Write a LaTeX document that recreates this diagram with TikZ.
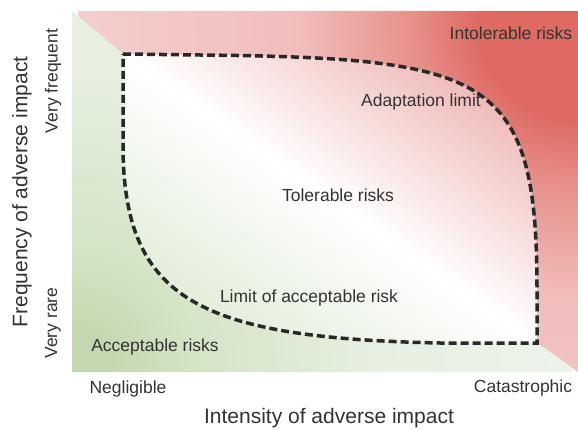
\documentclass[tikz,border=0pt]{standalone}
\usepackage{fontspec}
\setmainfont{Liberation Sans}

\newlength{\du}
\setlength{\du}{1pt}

\definecolor{riskred}{RGB}{222,106,98}
\definecolor{riskrose}{RGB}{232,146,141}
\definecolor{riskpink}{RGB}{241,190,188}
\definecolor{riskblush}{RGB}{244,206,205}
\definecolor{riskgreen}{RGB}{195,216,176}
\definecolor{risksage}{RGB}{212,228,198}
\definecolor{riskmint}{RGB}{230,239,224}
\definecolor{riskpale}{RGB}{237,243,234}
\definecolor{innerred}{RGB}{234,166,163}
\definecolor{innergreen}{RGB}{216,231,205}
\definecolor{labelgray}{RGB}{51,51,51}
\definecolor{dashgray}{RGB}{40,40,40}

\pgfdeclareradialshading{redcorner}{\pgfpointorigin}{color(0bp)=(riskred); color(5bp)=(riskred); color(8.5bp)=(riskrose); color(14bp)=(riskpink); color(25bp)=(riskblush); color(50bp)=(riskblush)}
\pgfdeclareradialshading{greencorner}{\pgfpointorigin}{color(0bp)=(riskgreen); color(2bp)=(riskgreen); color(6bp)=(risksage); color(15bp)=(riskmint); color(25bp)=(riskpale); color(50bp)=(riskpale)}

\tikzset{
  risklabel/.style={font=\fontsize{17.5}{21}\selectfont, text=labelgray, inner sep=0pt},
  axislabel/.style={font=\fontsize{21}{25}\selectfont, text=labelgray, inner sep=0pt},
  limitline/.style={draw=dashgray, line width=3.5\du, dash pattern=on 8\du off 4\du, miter limit=4}
}

\begin{document}
\begin{tikzpicture}
\pgftransformxscale{1.000000}
\pgftransformyscale{-1.000000}
\useasboundingbox (0\du,0\du) rectangle (578\du,430\du);
% red half, darkest in the top right corner
\begin{scope}
\clip (72\du,11\du)--(578\du,11\du)--(578\du,372\du)--(537\du,343\du)--(123\du,54\du)--cycle;
\shade[shading=redcorner] (78\du,-480\du) rectangle (1078\du,520\du);
\end{scope}
% green half, darkest in the bottom left corner
\begin{scope}
\clip (72\du,11\du)--(123\du,54\du)--(537\du,343\du)--(578\du,372\du)--(72\du,372\du)--cycle;
\shade[shading=greencorner] (-428\du,-128\du) rectangle (572\du,872\du);
\end{scope}
% white band along the diagonal inside the limits
\begin{scope}
\clip (123\du,54\du)--(200\du,55\du) .. controls (490\du,58\du) and (537\du,75\du) .. (537\du,290\du)--(537\du,343\du)--(440\du,343\du) .. controls (200\du,338\du) and (125\du,300\du) .. (123\du,150\du)--cycle;
\begin{scope}[transform canvas={shift={(330\du,-198.5\du)},rotate=-35}]
\shade[top color=innerred, bottom color=innergreen, middle color=white] (-420\du,-225\du) rectangle (420\du,225\du);
\end{scope}
\end{scope}
% dashed limits
\draw[limitline] (123\du,54\du)--(200\du,55\du) .. controls (490\du,58\du) and (537\du,75\du) .. (537\du,290\du)--(537\du,343\du)--(440\du,343\du) .. controls (200\du,338\du) and (125\du,300\du) .. (123\du,150\du)--cycle;
% setfont left to latex
\node[risklabel] (intolerable) at (511\du,33\du) {Intolerable risks};
\node[risklabel] (adaptation) at (421\du,102\du) {Adaptation limit};
\node[risklabel] (tolerable) at (338\du,195\du) {Tolerable risks};
\node[risklabel] (acceptlimit) at (309\du,298\du) {Limit of acceptable risk};
\node[risklabel] (acceptable) at (155\du,347\du) {Acceptable risks};
% setfont left to latex
\node[risklabel] (negligible) at (128\du,389\du) {Negligible};
\node[risklabel] (catastrophic) at (523\du,388\du) {Catastrophic};
\node[risklabel, rotate=90] (veryfrequent) at (53\du,81\du) {Very frequent};
\node[risklabel, rotate=90] (veryrare) at (53\du,323\du) {Very rare};
% setfont left to latex
\node[axislabel] (intensity) at (329\du,418\du) {Intensity of adverse impact};
\node[axislabel, rotate=90] (frequency) at (22\du,192\du) {Frequency of adverse impact};
\end{tikzpicture}
\end{document}
